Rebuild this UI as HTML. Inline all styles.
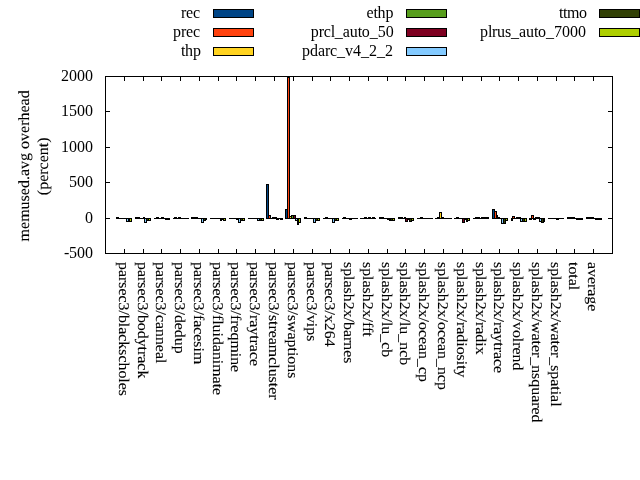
<!DOCTYPE html>
<html><head><meta charset="utf-8"><title>memused.avg overhead</title>
<style>html,body{margin:0;padding:0;background:#fff}svg{display:block}text.r{text-rendering:geometricPrecision;stroke:#000;stroke-width:0.1px}text{font-family:"Liberation Serif","DejaVu Serif",serif;font-size:16px;fill:#000}</style></head><body>
<svg width="640" height="480" viewBox="0 0 640 480">
<rect x="0" y="0" width="640" height="480" fill="#fff"/>
<path d="M105.5 253.5h4.5M612.5 253.5h-4.5M105.5 218.5h4.5M612.5 218.5h-4.5M105.5 182.5h4.5M612.5 182.5h-4.5M105.5 147.5h4.5M612.5 147.5h-4.5M105.5 111.5h4.5M612.5 111.5h-4.5M105.5 76.5h4.5M612.5 76.5h-4.5M124.50 253.5v-4.5M124.50 76.5v4.5M143.50 253.5v-4.5M143.50 76.5v4.5M161.50 253.5v-4.5M161.50 76.5v4.5M180.50 253.5v-4.5M180.50 76.5v4.5M199.50 253.5v-4.5M199.50 76.5v4.5M218.50 253.5v-4.5M218.50 76.5v4.5M236.50 253.5v-4.5M236.50 76.5v4.5M255.50 253.5v-4.5M255.50 76.5v4.5M274.50 253.5v-4.5M274.50 76.5v4.5M293.50 253.5v-4.5M293.50 76.5v4.5M312.50 253.5v-4.5M312.50 76.5v4.5M330.50 253.5v-4.5M330.50 76.5v4.5M349.50 253.5v-4.5M349.50 76.5v4.5M368.50 253.5v-4.5M368.50 76.5v4.5M387.50 253.5v-4.5M387.50 76.5v4.5M405.50 253.5v-4.5M405.50 76.5v4.5M424.50 253.5v-4.5M424.50 76.5v4.5M443.50 253.5v-4.5M443.50 76.5v4.5M462.50 253.5v-4.5M462.50 76.5v4.5M481.50 253.5v-4.5M481.50 76.5v4.5M499.50 253.5v-4.5M499.50 76.5v4.5M518.50 253.5v-4.5M518.50 76.5v4.5M537.50 253.5v-4.5M537.50 76.5v4.5M556.50 253.5v-4.5M556.50 76.5v4.5M574.50 253.5v-4.5M574.50 76.5v4.5M593.50 253.5v-4.5M593.50 76.5v4.5" stroke="#000" stroke-width="1" fill="none"/>
<text x="64 69 77 85" y="257.5">-500</text>
<text x="85" y="222.5">0</text>
<text x="69 77 85" y="186.5">500</text>
<text x="61 69 77 85" y="151.5">1000</text>
<text x="61 69 77 85" y="115.5">1500</text>
<text x="61 69 77 85" y="80.5">2000</text>
<clipPath id="c"><rect x="105.5" y="76.5" width="507.0" height="177.0"/></clipPath>
<g clip-path="url(#c)" stroke="#000" stroke-width="1" shape-rendering="crispEdges">
<path d="M116.5 218.5V217.5H118.5V218.5z" fill="#004586"/>
<path d="M135.5 218.5V217.5H137.5V218.5z" fill="#004586"/>
<path d="M154.0 218.5H157.0"/>
<path d="M173.0 218.5H175.0"/>
<path d="M191.5 218.5V217.5H193.5V218.5z" fill="#004586"/>
<path d="M210.0 218.5H213.0"/>
<path d="M229.0 218.5H232.0"/>
<path d="M248.0 218.5H251.0"/>
<path d="M266.5 218.5V184.5H268.5V218.5z" fill="#004586"/>
<path d="M285.5 218.5V209.5H287.5V218.5z" fill="#004586"/>
<path d="M304.5 218.5V217.5H306.5V218.5z" fill="#004586"/>
<path d="M323.0 218.5H326.0"/>
<path d="M342.0 218.5H344.0"/>
<path d="M360.0 218.5H363.0"/>
<path d="M379.5 218.5V217.5H381.5V218.5z" fill="#004586"/>
<path d="M398.5 218.5V217.5H400.5V218.5z" fill="#004586"/>
<path d="M417.0 218.5H420.0"/>
<path d="M435.0 218.5H438.0"/>
<path d="M454.0 218.5H457.0"/>
<path d="M473.0 218.5H476.0"/>
<path d="M492.5 218.5V209.5H494.5V218.5z" fill="#004586"/>
<path d="M511.5 218.5V220.5H512.5V218.5z" fill="#004586"/>
<path d="M529.5 218.5V219.5H531.5V218.5z" fill="#004586"/>
<path d="M548.0 218.5H551.0"/>
<path d="M567.5 218.5V217.5H569.5V218.5z" fill="#004586"/>
<path d="M586.5 218.5V217.5H588.5V218.5z" fill="#004586"/>
<path d="M118.0 218.5H121.0"/>
<path d="M137.5 218.5V217.5H139.5V218.5z" fill="#FF420E"/>
<path d="M156.5 218.5V217.5H158.5V218.5z" fill="#FF420E"/>
<path d="M174.5 218.5V217.5H176.5V218.5z" fill="#FF420E"/>
<path d="M193.5 218.5V217.5H195.5V218.5z" fill="#FF420E"/>
<path d="M212.0 218.5H215.0"/>
<path d="M231.0 218.5H234.0"/>
<path d="M250.0 218.5H252.0"/>
<path d="M268.5 218.5V215.5H270.5V218.5z" fill="#FF420E"/>
<path d="M287.5 218.5V77.5H289.5V218.5z" fill="#FF420E"/>
<path d="M306.0 218.5H309.0"/>
<path d="M325.5 218.5V217.5H327.5V218.5z" fill="#FF420E"/>
<path d="M343.5 218.5V217.5H345.5V218.5z" fill="#FF420E"/>
<path d="M362.0 218.5H365.0"/>
<path d="M381.5 218.5V217.5H383.5V218.5z" fill="#FF420E"/>
<path d="M400.5 218.5V217.5H402.5V218.5z" fill="#FF420E"/>
<path d="M419.0 218.5H421.0"/>
<path d="M437.5 218.5V217.5H439.5V218.5z" fill="#FF420E"/>
<path d="M456.5 218.5V217.5H458.5V218.5z" fill="#FF420E"/>
<path d="M475.5 218.5V217.5H477.5V218.5z" fill="#FF420E"/>
<path d="M494.5 218.5V211.5H496.5V218.5z" fill="#FF420E"/>
<path d="M512.5 218.5V216.5H514.5V218.5z" fill="#FF420E"/>
<path d="M531.5 218.5V215.5H533.5V218.5z" fill="#FF420E"/>
<path d="M550.0 218.5H553.0"/>
<path d="M569.5 218.5V217.5H571.5V218.5z" fill="#FF420E"/>
<path d="M588.5 218.5V217.5H589.5V218.5z" fill="#FF420E"/>
<path d="M120.0 218.5H123.0"/>
<path d="M139.0 218.5H142.0"/>
<path d="M158.0 218.5H160.0"/>
<path d="M176.0 218.5H179.0"/>
<path d="M195.5 218.5V217.5H197.5V218.5z" fill="#FFD320"/>
<path d="M214.0 218.5H217.0"/>
<path d="M233.0 218.5H236.0"/>
<path d="M251.0 218.5H254.0"/>
<path d="M270.0 218.5H273.0"/>
<path d="M289.5 218.5V216.5H291.5V218.5z" fill="#FFD320"/>
<path d="M308.0 218.5H311.0"/>
<path d="M327.0 218.5H329.0"/>
<path d="M345.0 218.5H348.0"/>
<path d="M364.5 218.5V217.5H366.5V218.5z" fill="#FFD320"/>
<path d="M383.0 218.5H386.0"/>
<path d="M402.0 218.5H405.0"/>
<path d="M420.5 218.5V217.5H422.5V218.5z" fill="#FFD320"/>
<path d="M439.5 218.5V212.5H441.5V218.5z" fill="#FFD320"/>
<path d="M458.0 218.5H461.0"/>
<path d="M477.5 218.5V217.5H479.5V218.5z" fill="#FFD320"/>
<path d="M496.5 218.5V215.5H497.5V218.5z" fill="#FFD320"/>
<path d="M514.0 218.5H517.0"/>
<path d="M533.5 218.5V219.5H535.5V218.5z" fill="#FFD320"/>
<path d="M552.0 218.5H555.0"/>
<path d="M571.5 218.5V217.5H573.5V218.5z" fill="#FFD320"/>
<path d="M589.5 218.5V217.5H591.5V218.5z" fill="#FFD320"/>
<path d="M122.0 218.5H125.0"/>
<path d="M141.0 218.5H144.0"/>
<path d="M159.0 218.5H162.0"/>
<path d="M178.5 218.5V217.5H180.5V218.5z" fill="#579D1C"/>
<path d="M197.0 218.5H200.0"/>
<path d="M216.0 218.5H219.0"/>
<path d="M235.0 218.5H237.0"/>
<path d="M253.0 218.5H256.0"/>
<path d="M272.5 218.5V217.5H274.5V218.5z" fill="#579D1C"/>
<path d="M291.5 218.5V215.5H293.5V218.5z" fill="#579D1C"/>
<path d="M310.0 218.5H313.0"/>
<path d="M328.0 218.5H331.0"/>
<path d="M347.0 218.5H350.0"/>
<path d="M366.0 218.5H369.0"/>
<path d="M385.0 218.5H388.0"/>
<path d="M404.5 218.5V217.5H405.5V218.5z" fill="#579D1C"/>
<path d="M422.0 218.5H425.0"/>
<path d="M441.5 218.5V217.5H443.5V218.5z" fill="#579D1C"/>
<path d="M460.0 218.5H463.0"/>
<path d="M479.0 218.5H482.0"/>
<path d="M497.5 218.5V217.5H499.5V218.5z" fill="#579D1C"/>
<path d="M516.5 218.5V217.5H518.5V218.5z" fill="#579D1C"/>
<path d="M535.5 218.5V217.5H537.5V218.5z" fill="#579D1C"/>
<path d="M554.0 218.5H557.0"/>
<path d="M573.5 218.5V217.5H574.5V218.5z" fill="#579D1C"/>
<path d="M591.5 218.5V217.5H593.5V218.5z" fill="#579D1C"/>
<path d="M124.0 218.5H127.0"/>
<path d="M143.5 218.5V217.5H144.5V218.5z" fill="#7E0021"/>
<path d="M161.5 218.5V217.5H163.5V218.5z" fill="#7E0021"/>
<path d="M180.0 218.5H183.0"/>
<path d="M199.0 218.5H202.0"/>
<path d="M218.0 218.5H221.0"/>
<path d="M236.5 218.5V219.5H238.5V218.5z" fill="#7E0021"/>
<path d="M255.0 218.5H258.0"/>
<path d="M274.5 218.5V217.5H276.5V218.5z" fill="#7E0021"/>
<path d="M293.5 218.5V215.5H295.5V218.5z" fill="#7E0021"/>
<path d="M312.0 218.5H314.0"/>
<path d="M330.0 218.5H333.0"/>
<path d="M349.5 218.5V219.5H351.5V218.5z" fill="#7E0021"/>
<path d="M368.5 218.5V217.5H370.5V218.5z" fill="#7E0021"/>
<path d="M387.5 218.5V219.5H389.5V218.5z" fill="#7E0021"/>
<path d="M405.5 218.5V221.5H407.5V218.5z" fill="#7E0021"/>
<path d="M424.0 218.5H427.0"/>
<path d="M443.0 218.5H446.0"/>
<path d="M462.5 218.5V222.5H464.5V218.5z" fill="#7E0021"/>
<path d="M481.5 218.5V217.5H482.5V218.5z" fill="#7E0021"/>
<path d="M499.0 218.5H502.0"/>
<path d="M518.5 218.5V217.5H520.5V218.5z" fill="#7E0021"/>
<path d="M537.5 218.5V217.5H539.5V218.5z" fill="#7E0021"/>
<path d="M556.5 218.5V219.5H558.5V218.5z" fill="#7E0021"/>
<path d="M574.0 218.5H577.0"/>
<path d="M593.0 218.5H596.0"/>
<path d="M126.5 218.5V221.5H128.5V218.5z" fill="#83CAFF"/>
<path d="M144.5 218.5V222.5H146.5V218.5z" fill="#83CAFF"/>
<path d="M163.0 218.5H166.0"/>
<path d="M182.0 218.5H185.0"/>
<path d="M201.5 218.5V222.5H203.5V218.5z" fill="#83CAFF"/>
<path d="M220.5 218.5V220.5H221.5V218.5z" fill="#83CAFF"/>
<path d="M238.5 218.5V222.5H240.5V218.5z" fill="#83CAFF"/>
<path d="M257.5 218.5V220.5H259.5V218.5z" fill="#83CAFF"/>
<path d="M276.5 218.5V219.5H278.5V218.5z" fill="#83CAFF"/>
<path d="M295.5 218.5V220.5H297.5V218.5z" fill="#83CAFF"/>
<path d="M313.5 218.5V222.5H315.5V218.5z" fill="#83CAFF"/>
<path d="M332.5 218.5V222.5H334.5V218.5z" fill="#83CAFF"/>
<path d="M351.0 218.5H354.0"/>
<path d="M370.0 218.5H373.0"/>
<path d="M389.5 218.5V220.5H390.5V218.5z" fill="#83CAFF"/>
<path d="M407.5 218.5V219.5H409.5V218.5z" fill="#83CAFF"/>
<path d="M426.0 218.5H429.0"/>
<path d="M445.0 218.5H448.0"/>
<path d="M464.5 218.5V219.5H466.5V218.5z" fill="#83CAFF"/>
<path d="M482.5 218.5V217.5H484.5V218.5z" fill="#83CAFF"/>
<path d="M501.5 218.5V223.5H503.5V218.5z" fill="#83CAFF"/>
<path d="M520.5 218.5V221.5H522.5V218.5z" fill="#83CAFF"/>
<path d="M539.5 218.5V221.5H541.5V218.5z" fill="#83CAFF"/>
<path d="M558.0 218.5H560.0"/>
<path d="M576.5 218.5V219.5H578.5V218.5z" fill="#83CAFF"/>
<path d="M595.5 218.5V219.5H597.5V218.5z" fill="#83CAFF"/>
<path d="M128.5 218.5V221.5H129.5V218.5z" fill="#314004"/>
<path d="M146.5 218.5V220.5H148.5V218.5z" fill="#314004"/>
<path d="M165.5 218.5V219.5H167.5V218.5z" fill="#314004"/>
<path d="M184.0 218.5H187.0"/>
<path d="M203.5 218.5V220.5H205.5V218.5z" fill="#314004"/>
<path d="M221.5 218.5V219.5H223.5V218.5z" fill="#314004"/>
<path d="M240.5 218.5V220.5H242.5V218.5z" fill="#314004"/>
<path d="M259.5 218.5V220.5H261.5V218.5z" fill="#314004"/>
<path d="M278.0 218.5H281.0"/>
<path d="M297.5 218.5V224.5H298.5V218.5z" fill="#314004"/>
<path d="M315.5 218.5V220.5H317.5V218.5z" fill="#314004"/>
<path d="M334.5 218.5V220.5H336.5V218.5z" fill="#314004"/>
<path d="M353.0 218.5H356.0"/>
<path d="M372.5 218.5V217.5H374.5V218.5z" fill="#314004"/>
<path d="M390.5 218.5V220.5H392.5V218.5z" fill="#314004"/>
<path d="M409.5 218.5V221.5H411.5V218.5z" fill="#314004"/>
<path d="M428.0 218.5H431.0"/>
<path d="M447.0 218.5H450.0"/>
<path d="M466.5 218.5V221.5H467.5V218.5z" fill="#314004"/>
<path d="M484.5 218.5V217.5H486.5V218.5z" fill="#314004"/>
<path d="M503.5 218.5V223.5H505.5V218.5z" fill="#314004"/>
<path d="M522.5 218.5V221.5H524.5V218.5z" fill="#314004"/>
<path d="M541.5 218.5V222.5H543.5V218.5z" fill="#314004"/>
<path d="M559.0 218.5H562.0"/>
<path d="M578.5 218.5V219.5H580.5V218.5z" fill="#314004"/>
<path d="M597.5 218.5V219.5H599.5V218.5z" fill="#314004"/>
<path d="M129.5 218.5V221.5H131.5V218.5z" fill="#AECF00"/>
<path d="M148.5 218.5V220.5H150.5V218.5z" fill="#AECF00"/>
<path d="M167.5 218.5V219.5H169.5V218.5z" fill="#AECF00"/>
<path d="M186.0 218.5H189.0"/>
<path d="M205.5 218.5V219.5H206.5V218.5z" fill="#AECF00"/>
<path d="M223.5 218.5V220.5H225.5V218.5z" fill="#AECF00"/>
<path d="M242.5 218.5V220.5H244.5V218.5z" fill="#AECF00"/>
<path d="M261.5 218.5V220.5H263.5V218.5z" fill="#AECF00"/>
<path d="M280.5 218.5V219.5H282.5V218.5z" fill="#AECF00"/>
<path d="M298.5 218.5V222.5H300.5V218.5z" fill="#AECF00"/>
<path d="M317.5 218.5V220.5H319.5V218.5z" fill="#AECF00"/>
<path d="M336.5 218.5V220.5H338.5V218.5z" fill="#AECF00"/>
<path d="M355.0 218.5H358.0"/>
<path d="M374.0 218.5H376.0"/>
<path d="M392.5 218.5V220.5H394.5V218.5z" fill="#AECF00"/>
<path d="M411.5 218.5V220.5H413.5V218.5z" fill="#AECF00"/>
<path d="M430.0 218.5H433.0"/>
<path d="M449.0 218.5H452.0"/>
<path d="M467.5 218.5V220.5H469.5V218.5z" fill="#AECF00"/>
<path d="M486.5 218.5V217.5H488.5V218.5z" fill="#AECF00"/>
<path d="M505.5 218.5V220.5H507.5V218.5z" fill="#AECF00"/>
<path d="M524.5 218.5V221.5H526.5V218.5z" fill="#AECF00"/>
<path d="M543.5 218.5V221.5H544.5V218.5z" fill="#AECF00"/>
<path d="M561.0 218.5H564.0"/>
<path d="M580.5 218.5V219.5H582.5V218.5z" fill="#AECF00"/>
<path d="M599.5 218.5V219.5H601.5V218.5z" fill="#AECF00"/>
</g>
<rect x="105.5" y="76.5" width="507.0" height="177.0" fill="none" stroke="#000" stroke-width="1"/>
<text class="r" transform="translate(119.15 262.0) rotate(90) scale(0.992 0.93)">parsec3/blackscholes</text>
<text class="r" transform="translate(138.15 262.0) rotate(90) scale(0.992 0.93)">parsec3/bodytrack</text>
<text class="r" transform="translate(156.15 262.0) rotate(90) scale(0.992 0.93)">parsec3/canneal</text>
<text class="r" transform="translate(175.15 262.0) rotate(90) scale(0.992 0.93)">parsec3/dedup</text>
<text class="r" transform="translate(194.15 262.0) rotate(90) scale(0.992 0.93)">parsec3/facesim</text>
<text class="r" transform="translate(213.15 262.0) rotate(90) scale(0.992 0.93)">parsec3/fluidanimate</text>
<text class="r" transform="translate(231.15 262.0) rotate(90) scale(0.992 0.93)">parsec3/freqmine</text>
<text class="r" transform="translate(250.15 262.0) rotate(90) scale(0.992 0.93)">parsec3/raytrace</text>
<text class="r" transform="translate(269.15 262.0) rotate(90) scale(0.992 0.93)">parsec3/streamcluster</text>
<text class="r" transform="translate(288.15 262.0) rotate(90) scale(0.992 0.93)">parsec3/swaptions</text>
<text class="r" transform="translate(307.15 262.0) rotate(90) scale(0.992 0.93)">parsec3/vips</text>
<text class="r" transform="translate(325.15 262.0) rotate(90) scale(0.992 0.93)">parsec3/x264</text>
<text class="r" transform="translate(344.15 262.0) rotate(90) scale(0.992 0.93)">splash2x/barnes</text>
<text class="r" transform="translate(363.15 262.0) rotate(90) scale(0.992 0.93)">splash2x/fft</text>
<text class="r" transform="translate(382.15 262.0) rotate(90) scale(0.992 0.93)">splash2x/lu_cb</text>
<text class="r" transform="translate(400.15 262.0) rotate(90) scale(0.992 0.93)">splash2x/lu_ncb</text>
<text class="r" transform="translate(419.15 262.0) rotate(90) scale(0.992 0.93)">splash2x/ocean_cp</text>
<text class="r" transform="translate(438.15 262.0) rotate(90) scale(0.992 0.93)">splash2x/ocean_ncp</text>
<text class="r" transform="translate(457.15 262.0) rotate(90) scale(0.992 0.93)">splash2x/radiosity</text>
<text class="r" transform="translate(476.15 262.0) rotate(90) scale(0.992 0.93)">splash2x/radix</text>
<text class="r" transform="translate(494.15 262.0) rotate(90) scale(0.992 0.93)">splash2x/raytrace</text>
<text class="r" transform="translate(513.15 262.0) rotate(90) scale(0.992 0.93)">splash2x/volrend</text>
<text class="r" transform="translate(532.15 262.0) rotate(90) scale(0.992 0.93)">splash2x/water_nsquared</text>
<text class="r" transform="translate(551.15 262.0) rotate(90) scale(0.992 0.93)">splash2x/water_spatial</text>
<text class="r" transform="translate(569.15 262.0) rotate(90) scale(0.992 0.93)">total</text>
<text class="r" transform="translate(588.15 262.0) rotate(90) scale(0.992 0.93)">average</text>
<text class="r" transform="translate(28.5 165.85) rotate(-90) scale(1.0 0.97)" text-anchor="middle">memused.avg overhead</text>
<text class="r" transform="translate(47.6 166.3) rotate(-90) scale(1.0 0.97)" text-anchor="middle">(percent)</text>
<rect x="213.5" y="9.5" width="40" height="8" fill="#004586" stroke="#000" stroke-width="1"/>
<text x="181.0 186.0 193.0" y="18.0">rec</text>
<rect x="213.5" y="28.5" width="40" height="8" fill="#FF420E" stroke="#000" stroke-width="1"/>
<text x="173.0 181.0 186.0 193.0" y="37.0">prec</text>
<rect x="213.5" y="47.5" width="40" height="8" fill="#FFD320" stroke="#000" stroke-width="1"/>
<text x="181.1 185.1 193.1" y="56.0">thp</text>
<rect x="406.5" y="9.5" width="40" height="8" fill="#579D1C" stroke="#000" stroke-width="1"/>
<text x="366.5 373.5 377.5 385.5" y="18.0">ethp</text>
<rect x="406.5" y="28.5" width="40" height="8" fill="#7E0021" stroke="#000" stroke-width="1"/>
<text x="310.7 318.7 323.7 330.7 334.7 342.7 349.7 357.7 361.7 369.7 377.7 385.7" y="37.0">prcl_auto_50</text>
<rect x="406.5" y="47.5" width="40" height="8" fill="#83CAFF" stroke="#000" stroke-width="1"/>
<text x="302.0 310.0 318.0 325.0 330.0 337.0 345.0 353.0 361.0 369.0 377.0 385.0" y="56.0">pdarc_v4_2_2</text>
<rect x="599.5" y="9.5" width="40" height="8" fill="#314004" stroke="#000" stroke-width="1"/>
<text x="559.0 563.0 567.0 579.0" y="18.0">ttmo</text>
<rect x="599.5" y="28.5" width="40" height="8" fill="#AECF00" stroke="#000" stroke-width="1"/>
<text x="480.0 488.0 492.0 497.0 505.0 511.0 519.0 526.0 534.0 538.0 546.0 554.0 562.0 570.0 578.0" y="37.0">plrus_auto_7000</text>
</svg></body></html>
